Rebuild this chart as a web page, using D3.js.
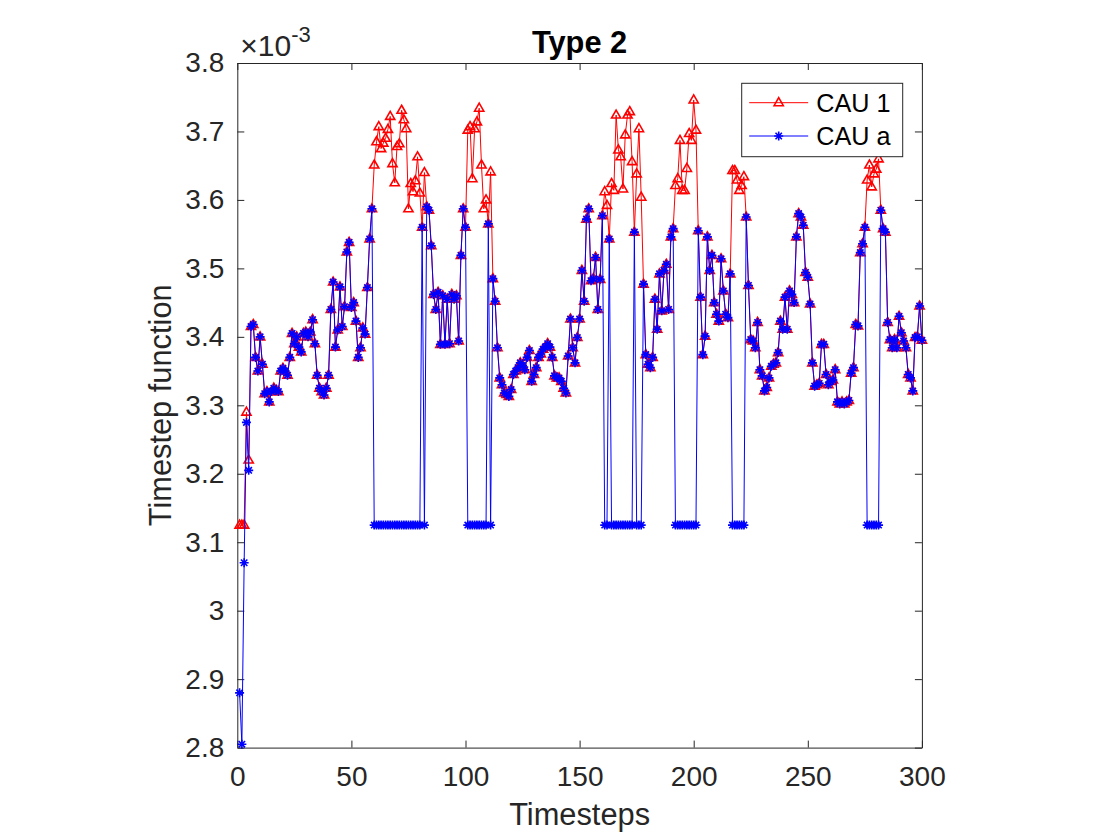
<!DOCTYPE html>
<html>
<head>
<meta charset="utf-8">
<script src="https://cdn.jsdelivr.net/npm/d3@7"></script>
<style>
	body { margin: 0; background: #fff; }
	svg text { font-family: "Liberation Sans", Arial, Helvetica, sans-serif; fill: #262626; }
</style>
</head>
<body>
<div id="chart"></div>
<script>
// values are in units of 1e-3 (axis shows the x10^-3 multiplier)
var cau1 = [
	3.125,3.125,3.125,3.290,3.220,3.415,3.418,3.370,3.350,3.400,
	3.360,3.317,3.320,3.305,3.320,3.325,3.322,3.320,3.350,3.354,
	3.350,3.344,3.370,3.405,3.390,3.400,3.385,3.378,3.405,3.407,
	3.400,3.407,3.425,3.390,3.344,3.325,3.320,3.315,3.325,3.344,
	3.440,3.480,3.385,3.410,3.473,3.415,3.444,3.524,3.538,3.443,
	3.450,3.423,3.370,3.384,3.413,3.404,3.472,3.543,3.587,3.651,
	3.685,3.707,3.675,3.683,3.690,3.703,3.722,3.653,3.625,3.678,
	3.682,3.731,3.717,3.704,3.587,3.624,3.612,3.628,3.663,3.610,
	3.560,3.640,3.590,3.585,3.533,3.462,3.440,3.465,3.389,3.460,
	3.389,3.455,3.390,3.462,3.455,3.460,3.394,3.519,3.587,3.560,
	3.702,3.707,3.631,3.704,3.714,3.734,3.651,3.587,3.600,3.565,
	3.641,3.485,3.452,3.384,3.340,3.330,3.318,3.316,3.313,3.323,
	3.345,3.350,3.355,3.362,3.358,3.352,3.370,3.380,3.335,3.345,
	3.355,3.370,3.375,3.382,3.385,3.390,3.385,3.370,3.343,3.340,
	3.340,3.335,3.325,3.318,3.372,3.426,3.384,3.362,3.399,3.426,
	3.497,3.452,3.572,3.587,3.482,3.485,3.516,3.440,3.484,3.577,
	3.612,3.592,3.543,3.624,3.614,3.724,3.673,3.663,3.616,3.695,
	3.724,3.729,3.656,3.553,3.638,3.704,3.604,3.477,3.374,3.360,
	3.355,3.370,3.455,3.411,3.492,3.438,3.497,3.506,3.440,3.546,
	3.558,3.621,3.631,3.687,3.614,3.614,3.646,3.697,3.687,3.746,
	3.702,3.555,3.458,3.374,3.401,3.546,3.497,3.519,3.450,3.433,
	3.423,3.514,3.467,3.433,3.428,3.492,3.643,3.643,3.629,3.614,
	3.621,3.634,3.575,3.475,3.396,3.394,3.384,3.421,3.352,3.343,
	3.321,3.326,3.340,3.357,3.360,3.362,3.377,3.423,3.411,3.458,
	3.411,3.467,3.462,3.450,3.546,3.580,3.575,3.563,3.494,3.487,
	3.448,3.362,3.328,3.330,3.332,3.389,3.389,3.345,3.330,3.335,
	3.337,3.352,3.305,3.302,3.305,3.302,3.305,3.307,3.347,3.355,
	3.418,3.416,3.523,3.536,3.560,3.629,3.651,3.619,3.638,3.645,
	3.660,3.585,3.558,3.553,3.421,3.396,3.384,3.396,3.384,3.430,
	3.406,3.394,3.384,3.345,3.340,3.321,3.399,3.400,3.445,3.395
];
var cauA = [
	2.880,2.805,3.070,3.275,3.205,3.415,3.418,3.370,3.350,3.400,
	3.360,3.317,3.320,3.305,3.320,3.325,3.322,3.320,3.350,3.354,
	3.350,3.344,3.370,3.405,3.390,3.400,3.385,3.378,3.405,3.407,
	3.400,3.407,3.425,3.390,3.344,3.325,3.320,3.315,3.325,3.344,
	3.440,3.480,3.385,3.410,3.473,3.415,3.444,3.524,3.538,3.443,
	3.450,3.423,3.370,3.384,3.413,3.404,3.472,3.543,3.587,3.125,
	3.125,3.125,3.125,3.125,3.125,3.125,3.125,3.125,3.125,3.125,
	3.125,3.125,3.125,3.125,3.125,3.125,3.125,3.125,3.125,3.125,
	3.560,3.125,3.590,3.585,3.533,3.462,3.440,3.465,3.389,3.460,
	3.389,3.455,3.390,3.462,3.455,3.460,3.394,3.519,3.587,3.560,
	3.125,3.125,3.125,3.125,3.125,3.125,3.125,3.125,3.125,3.565,
	3.125,3.485,3.452,3.384,3.340,3.330,3.318,3.316,3.313,3.323,
	3.345,3.350,3.355,3.362,3.358,3.352,3.370,3.380,3.335,3.345,
	3.355,3.370,3.375,3.382,3.385,3.390,3.385,3.370,3.343,3.340,
	3.340,3.335,3.325,3.318,3.372,3.426,3.384,3.362,3.399,3.426,
	3.497,3.452,3.572,3.587,3.482,3.485,3.516,3.440,3.484,3.577,
	3.125,3.125,3.543,3.125,3.125,3.125,3.125,3.125,3.125,3.125,
	3.125,3.125,3.125,3.553,3.125,3.125,3.125,3.477,3.374,3.360,
	3.355,3.370,3.455,3.411,3.492,3.438,3.497,3.506,3.440,3.546,
	3.558,3.125,3.125,3.125,3.125,3.125,3.125,3.125,3.125,3.125,
	3.125,3.555,3.458,3.374,3.401,3.546,3.497,3.519,3.450,3.433,
	3.423,3.514,3.467,3.433,3.428,3.492,3.125,3.125,3.125,3.125,
	3.125,3.125,3.575,3.475,3.396,3.394,3.384,3.421,3.352,3.343,
	3.321,3.326,3.340,3.357,3.360,3.362,3.377,3.423,3.411,3.458,
	3.411,3.467,3.462,3.450,3.546,3.580,3.575,3.563,3.494,3.487,
	3.448,3.362,3.328,3.330,3.332,3.389,3.389,3.345,3.330,3.335,
	3.337,3.352,3.305,3.302,3.305,3.302,3.305,3.307,3.347,3.355,
	3.418,3.416,3.523,3.536,3.560,3.125,3.125,3.125,3.125,3.125,
	3.125,3.585,3.558,3.553,3.421,3.396,3.384,3.396,3.384,3.430,
	3.406,3.394,3.384,3.345,3.340,3.321,3.399,3.400,3.445,3.395
];
var xTicks = [0, 50, 100, 150, 200, 250, 300];
var yTicks = [2.8, 2.9, 3.0, 3.1, 3.2, 3.3, 3.4, 3.5, 3.6, 3.7, 3.8];
var seriesNames = ['CAU 1', 'CAU a'];

// figure size and the (square) axes box
var width = 1120, height = 840;
var box = { left: 237.3, right: 921.9, top: 63, bottom: 747.6 };
var axisColor = '#262626';

var svg = d3.select('#chart')
	.append('svg')
	.attr('width', width)
	.attr('height', height);

var x = d3.scaleLinear().domain([0, 300]).range([box.left, box.right]);
var y = d3.scaleLinear().domain([2.8, 3.8]).range([box.bottom, box.top]);

// ticks point inwards like matlab
var fmtY = function (d) { return String(+d.toFixed(1)); };
var styleAxis = function (g) {
	g.selectAll('path.domain').attr('stroke', axisColor).attr('stroke-width', 1);
	g.selectAll('.tick line').attr('stroke', axisColor).attr('stroke-width', 1);
	g.selectAll('.tick text').attr('fill', axisColor).attr('font-size', 28)
		.attr('font-family', '"Liberation Sans", Arial, Helvetica, sans-serif');
};

svg.append('g')
	.attr('transform', 'translate(0,' + box.bottom + ')')
	.call(d3.axisBottom(x).tickValues(xTicks).tickSizeInner(-7).tickSizeOuter(0).tickPadding(19))
	.call(styleAxis);
svg.append('g')
	.attr('transform', 'translate(0,' + box.top + ')')
	.call(d3.axisTop(x).tickValues(xTicks).tickSizeInner(-7).tickSizeOuter(0).tickFormat(''))
	.call(styleAxis);
svg.append('g')
	.attr('transform', 'translate(' + box.left + ',0)')
	.call(d3.axisLeft(y).tickValues(yTicks).tickSizeInner(-7).tickSizeOuter(0).tickPadding(13).tickFormat(fmtY))
	.call(styleAxis);
svg.append('g')
	.attr('transform', 'translate(' + box.right + ',0)')
	.call(d3.axisRight(y).tickValues(yTicks).tickSizeInner(-7).tickSizeOuter(0).tickFormat(''))
	.call(styleAxis);

// exponent label
var expo = svg.append('text')
	.attr('x', box.left + 3)
	.attr('y', 56)
	.attr('font-size', 30);
expo.append('tspan').text('\u00d710');
expo.append('tspan').attr('font-size', 22).attr('dy', -14).text('-3');

// title and axis labels
svg.append('text')
	.attr('x', (box.left + box.right) / 2)
	.attr('y', 53)
	.attr('text-anchor', 'middle')
	.attr('font-size', 30.8)
	.attr('font-weight', 'bold')
	.style('fill', '#000')
	.text('Type 2');
svg.append('text')
	.attr('x', (box.left + box.right) / 2)
	.attr('y', 825)
	.attr('text-anchor', 'middle')
	.attr('font-size', 30.8)
	.text('Timesteps');
svg.append('text')
	.attr('transform', 'translate(171,' + (box.top + box.bottom) / 2 + ') rotate(-90)')
	.attr('text-anchor', 'middle')
	.attr('font-size', 30.8)
	.text('Timestep function');

// markers
var triPath = 'M0,-5L4.6,3L-4.6,3Z';
var starPath = 'M-4.5,0H4.5M0,-4.5V4.5M-3.2,-3.2L3.2,3.2M-3.2,3.2L3.2,-3.2';

var line = d3.line()
	.x(function (d, i) { return x(i + 1); })
	.y(function (d) { return y(d); });

var series = [
	{ name: seriesNames[0], values: cau1, color: '#ff0000', marker: triPath, markerWidth: 1.6 },
	{ name: seriesNames[1], values: cauA, color: '#0000ff', marker: starPath, markerWidth: 1.6 }
];

series.forEach(function (s) {
	var g = svg.append('g');
	g.append('path')
		.datum(s.values)
		.attr('d', line)
		.attr('fill', 'none')
		.attr('stroke', s.color)
		.attr('stroke-width', 1);
	g.selectAll('path.marker')
		.data(s.values)
		.enter()
		.append('path')
		.attr('class', 'marker')
		.attr('d', s.marker)
		.attr('transform', function (d, i) { return 'translate(' + x(i + 1) + ',' + y(d) + ')'; })
		.attr('fill', 'none')
		.attr('stroke', s.color)
		.attr('stroke-width', s.markerWidth);
});

// legend
var legend = svg.append('g').attr('transform', 'translate(741.7,83.3)');
legend.append('rect')
	.attr('width', 161)
	.attr('height', 73.4)
	.attr('fill', '#fff')
	.attr('stroke', axisColor)
	.attr('stroke-width', 1);
series.forEach(function (s, i) {
	var row = legend.append('g').attr('transform', 'translate(0,' + (19.4 + i * 33.3) + ')');
	row.append('line')
		.attr('x1', 7.5).attr('x2', 66.5)
		.attr('stroke', s.color).attr('stroke-width', 1);
	row.append('path')
		.attr('d', s.marker)
		.attr('transform', 'translate(37,0)')
		.attr('fill', 'none')
		.attr('stroke', s.color)
		.attr('stroke-width', s.markerWidth);
	row.append('text')
		.attr('x', 74.5)
		.attr('dy', '0.35em')
		.attr('font-size', 25.2)
		.style('fill', '#000')
		.text(s.name);
});
</script>
</body>
</html>
